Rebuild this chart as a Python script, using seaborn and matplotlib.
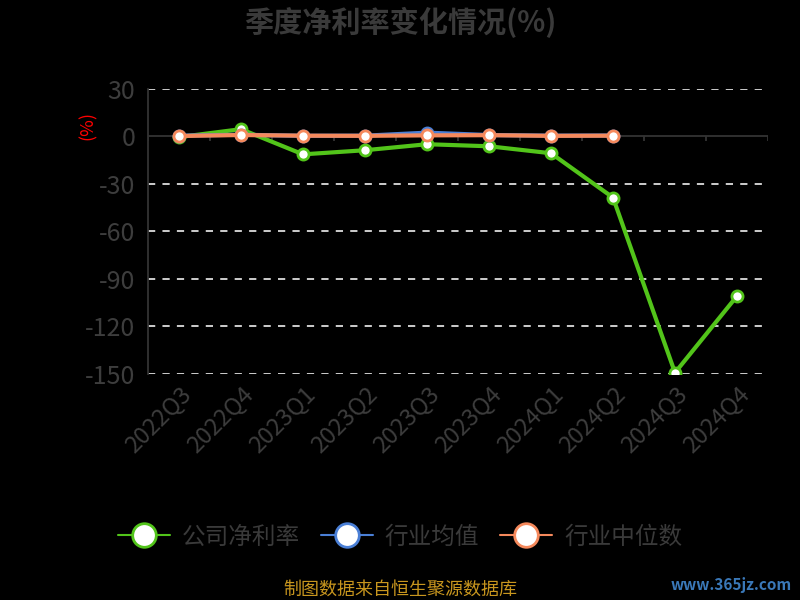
import numpy as np
import pandas as pd
import matplotlib
matplotlib.use('Agg')
import matplotlib.pyplot as plt
import seaborn as sns
from matplotlib.lines import Line2D

# Data
quarters = ['2022Q3', '2022Q4', '2023Q1', '2023Q2', '2023Q3',
            '2023Q4', '2024Q1', '2024Q2', '2024Q3', '2024Q4']
company = [-0.5, 4.5, -11.4, -8.8, -5.0, -6.3, -10.7, -38.7, -149.3, -100.9]
ind_mean = [0.4, 1.0, 0.3, 0.4, 2.3, 0.8, 0.4, 0.5]
ind_median = [0.2, 0.8, 0.4, 0.3, 0.6, 0.7, 0.3, 0.4]
series_names = ['公司净利率', '行业均值', '行业中位数']
colors = ['#52c41a', '#4a7fd6', '#f5895c']

sns.set_style('dark')
plt.rcParams['font.family'] = ['Noto Sans CJK SC', 'DejaVu Sans']
plt.rcParams['axes.unicode_minus'] = False

rows = []
for name, vals in zip(series_names, [company, ind_mean, ind_median]):
    for i, v in enumerate(vals):
        rows.append({'quarter': quarters[i], 'pos': i, 'value': v, 'series': name})
df = pd.DataFrame(rows)

fig = plt.figure(figsize=(8, 6), dpi=100, facecolor='black')
ax = fig.add_axes([0.185, 0.377, 0.775, 0.475])
ax.set_facecolor('black')

sns.lineplot(data=df, x='pos', y='value', hue='series', hue_order=series_names,
             palette=colors, linewidth=3, marker='o', markersize=8,
             markerfacecolor='white', markeredgewidth=2, legend=False, ax=ax,
             zorder=3)
# marker edge colour per series
for line, c in zip(ax.get_lines(), colors):
    line.set_markeredgecolor(c)
ax.get_lines()[0].set_zorder(2)

ax.set_xlim(-0.5, len(quarters) - 0.5)
ax.set_ylim(-150, 30)
ax.set_yticks([30, 0, -30, -60, -90, -120, -150])
ax.set_xticks(range(len(quarters)))
ax.set_xticklabels(quarters, rotation=45, ha='right', va='top',
                   rotation_mode='anchor', color='#3d3d3d', fontsize=17)
ax.tick_params(axis='x', length=0, pad=6)
ax.tick_params(axis='y', colors='#333333', labelcolor='#3d3d3d', labelsize=18,
               length=5, width=1, direction='out', pad=4)
ax.set_xlabel('')
ax.set_ylabel('')

for v in [30, -30, -60, -90, -120, -150]:
    ax.axhline(v, color='#dddddd', linestyle=(0, (4, 4)), linewidth=1.3, zorder=1)
ax.axhline(0, color='#333333', linewidth=1.3, zorder=1)
ax.vlines(np.arange(-0.5, len(quarters)), 0, -3, color='#333333', linewidth=1.3, zorder=1)

for s in ['top', 'right', 'bottom']:
    ax.spines[s].set_visible(False)
ax.spines['left'].set_color('#333333')
ax.spines['left'].set_linewidth(1.3)
ax.grid(False)

fig.text(0.5, 0.963, '季度净利率变化情况(%)', ha='center', va='center',
         fontsize=21, fontweight='bold', color='#3a3a3a')
fig.text(0.11, 0.79, '(%)', ha='center', va='center', rotation=90,
         fontsize=13, color='red')

handles = [Line2D([0], [0], color=c, linewidth=1.5, marker='o', markersize=17,
                  markerfacecolor='white', markeredgecolor=c, markeredgewidth=2)
           for c in colors]
leg = fig.legend(handles, series_names, loc='center', ncol=3, frameon=False,
                 fontsize=17, labelcolor='#3a3a3a', handlelength=2.2,
                 columnspacing=0.9, handletextpad=0.5)
leg.set_bbox_to_anchor((0.5, 0.105), transform=fig.transFigure)

fig.text(0.5, 0.018, '制图数据来自恒生聚源数据库', ha='center', va='center',
         fontsize=13, color='#c8961e')
fig.text(0.99, 0.025, 'www.365jz.com', ha='right', va='center',
         fontsize=11, fontweight='bold', color='#3a78b8')

fig.savefig('out.png', dpi=100, facecolor='black')
